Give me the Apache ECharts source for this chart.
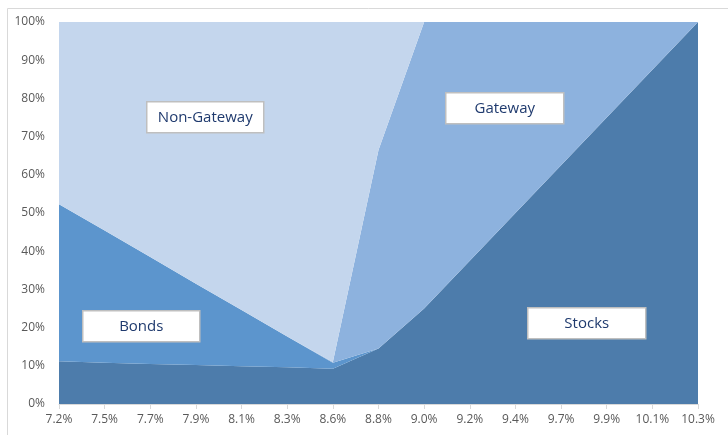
<!DOCTYPE html>
<html><head><meta charset="utf-8">
<script src="https://cdn.jsdelivr.net/npm/echarts@6/dist/echarts.min.js"></script>
<style>html,body{margin:0;padding:0;background:#fff}#c{width:728px;height:435px}</style>
</head><body><div id="c"></div>
<script>
var categories = ['7.2%','7.5%','7.7%','7.9%','8.1%','8.3%','8.6%','8.8%','9.0%','9.2%','9.4%','9.7%','9.9%','10.1%','10.3%'];
var stocks     = [11.2, 10.8, 10.5, 10.2, 9.9, 9.6, 9.2, 14.5, 25.0, 37.5, 50.0, 62.5, 75.0, 87.5, 100];
var bonds      = [41.1, 34.6, 28.0, 21.3, 14.7, 8.1, 1.6, 0, 0, 0, 0, 0, 0, 0, 0];
var gateway    = [0, 0, 0, 0, 0, 0, 0.2, 52.0, 75.0, 62.5, 50.0, 37.5, 25.0, 12.5, 0];
var nonGateway = [47.7, 54.6, 61.5, 68.5, 75.4, 82.3, 89.0, 33.5, 0, 0, 0, 0, 0, 0, 0];
var yTicks = [0, 10, 20, 30, 40, 50, 60, 70, 80, 90, 100];

var chart = echarts.init(document.getElementById('c'));
function s(name, data, color) {
  return {name: name, type: 'line', stack: 'all', data: data, symbol: 'none',
    lineStyle: {width: 0}, areaStyle: {color: color, opacity: 1}, emphasis: {disabled: true}};
}
function box(text, x, y, w, h) {
  return {type: 'group', left: x, top: y, z: 100, children: [
    {type: 'rect', z: 100, shape: {x: 0, y: 0, width: w, height: h},
     style: {fill: '#ffffff', stroke: '#bfbfbf', lineWidth: 1.5}},
    {type: 'text', z: 101, style: {text: text, x: w / 2, y: h / 2, textAlign: 'center', textVerticalAlign: 'middle',
     fill: '#1f3a6e', font: '15px "Open Sans", sans-serif'}}
  ]};
}
chart.setOption({
  animation: false,
  grid: {left: 59, right: 30, top: 22, bottom: 31},
  xAxis: {type: 'category', data: categories, boundaryGap: false,
    axisLine: {lineStyle: {color: '#d9d9d9'}},
    axisTick: {show: true, length: 5, lineStyle: {color: '#d9d9d9'}},
    axisLabel: {color: '#595959', fontSize: 12, margin: 10, fontFamily: 'Open Sans'}},
  yAxis: {type: 'value', min: 0, max: 100, interval: 10,
    axisLine: {show: false}, axisTick: {show: false}, splitLine: {show: false},
    axisLabel: {color: '#595959', fontSize: 12, margin: 14, fontFamily: 'Open Sans',
      formatter: function (v) { return yTicks.indexOf(v) >= 0 ? v + '%' : ''; }}},
  series: [
    s('Stocks', stocks, '#4d7cab'),
    s('Bonds', bonds, '#5c95cd'),
    s('Gateway', gateway, '#8db2de'),
    s('Non-Gateway', nonGateway, '#c4d6ed')
  ],
  graphic: [
    {type: 'rect', left: 5, top: 6, z: 100, shape: {width: 740, height: 440}, style: {fill: 'none', stroke: '#d9d9d9', lineWidth: 1}},
    box('Non-Gateway', 146, 101, 117, 31),
    box('Gateway', 445, 92, 118, 31),
    box('Bonds', 82, 310, 117, 31),
    box('Stocks', 527, 307, 118, 31)
  ]
});
</script></body></html>
